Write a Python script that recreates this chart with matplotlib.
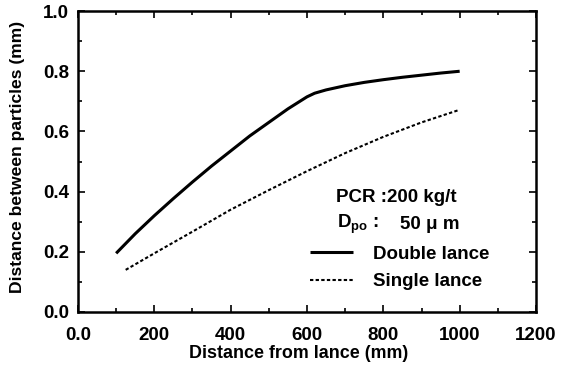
import numpy as np
import matplotlib
matplotlib.use("Agg")
import matplotlib.pyplot as plt
from matplotlib.ticker import MultipleLocator

plt.rcParams['font.family'] = ['Liberation Sans', 'DejaVu Sans']
plt.rcParams['font.weight'] = 'bold'
plt.rcParams['mathtext.fontset'] = 'custom'
plt.rcParams['mathtext.rm'] = 'Liberation Sans:bold'

# data
double_x = [100, 150, 200, 250, 300, 350, 400, 450, 500, 550, 600, 620,
            650, 700, 750, 800, 850, 900, 950, 1000]
double_y = [0.195, 0.26, 0.32, 0.377, 0.432, 0.485, 0.535, 0.585, 0.63,
            0.675, 0.715, 0.727, 0.738, 0.752, 0.763, 0.772, 0.780, 0.787,
            0.794, 0.800]
single_x = [125, 200, 300, 400, 500, 600, 700, 800, 900, 1000]
single_y = [0.14, 0.195, 0.267, 0.34, 0.405, 0.468, 0.528, 0.582, 0.63, 0.672]

xticks = [0, 200, 400, 600, 800, 1000, 1200]
xticklabels = ['0.0', '200', '400', '600', '800', '1000', '1200']
yticks = [0.0, 0.2, 0.4, 0.6, 0.8, 1.0]
yticklabels = ['0.0', '0.2', '0.4', '0.6', '0.8', '1.0']

fs = 13.5

fig = plt.figure(figsize=(5.65, 3.69), dpi=100)
ax = fig.add_axes([0.138, 0.1545, 0.8107, 0.8155])

l1, = ax.plot(double_x, double_y, color='black', lw=2.2, solid_capstyle='butt')
l2, = ax.plot(single_x, single_y, color='black', lw=1.5, linestyle=(0, (1.6, 1.1)))

ax.set_xlim(0, 1200)
ax.set_ylim(0, 1.0)
ax.set_xticks(xticks)
ax.set_xticklabels(xticklabels)
ax.set_yticks(yticks)
ax.set_yticklabels(yticklabels)
ax.xaxis.set_minor_locator(MultipleLocator(100))
ax.yaxis.set_minor_locator(MultipleLocator(0.1))
ax.tick_params(which='both', direction='in', top=True, right=True,
               width=1.2, labelsize=fs)
ax.tick_params(which='major', length=5)
ax.tick_params(which='minor', length=3)
ax.tick_params(axis='x', which='major', pad=11)
ax.tick_params(axis='y', which='major', pad=6.5)
for s in ax.spines.values():
    s.set_linewidth(1.8)

ax.set_xlabel('Distance from lance (mm)', fontsize=12.9, fontweight='bold', va='top')
ax.xaxis.set_label_coords(0.4825, -0.110)
ax.set_ylabel('Distance between particles (mm)', fontsize=12.6, fontweight='bold')
ax.yaxis.set_label_coords(-0.116, 0.515)

ax.text(0.563, 0.379, 'PCR :200 kg/t', transform=ax.transAxes,
        fontsize=fs, fontweight='bold', va='center', ha='left')
ax.text(0.566, 0.29, 'D$_{\\mathrm{po}}$ :', transform=ax.transAxes,
        fontsize=fs, fontweight='bold', va='center', ha='left')
ax.text(0.703, 0.29, '50 μ m', transform=ax.transAxes,
        fontsize=fs, fontweight='bold', va='center', ha='left')

ax.legend([l1, l2], ['Double lance', 'Single lance'], loc='upper left',
          bbox_to_anchor=(0.507, 0.2206), frameon=False, fontsize=fs,
          handlelength=2.3, handletextpad=1.07, labelspacing=0.55,
          borderaxespad=0, borderpad=0)

fig.savefig('out.png', dpi=100)
